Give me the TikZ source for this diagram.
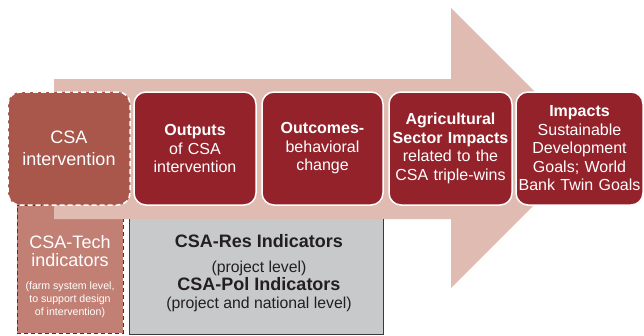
\documentclass[tikz,border=0pt]{standalone}
\usepackage{fontspec}
\setmainfont{Liberation Sans}
\definecolor{arrowpink}{HTML}{E0BBB1}
\definecolor{interfill}{HTML}{A9564B}
\definecolor{stagered}{HTML}{93222B}
\definecolor{techfill}{HTML}{C28075}
\definecolor{panelgray}{HTML}{C8C9CB}
\definecolor{inkdark}{HTML}{231F20}
\definecolor{edgegray}{HTML}{3A3A3A}
\begin{document}
\begin{tikzpicture}[x=1pt,y=-1pt,
  stagebox/.style={draw=white, line width=1.5pt, rounded corners=12pt, fill=stagered,
    text=white, inner sep=0pt, minimum height=113pt, align=center,
    font=\fontsize{16}{18.5}\selectfont},
  interbox/.style={stagebox, fill=interfill, dashed, dash pattern=on 5pt off 3pt,
    font=\fontsize{18}{22}\selectfont},
  techtext/.style={text=white, anchor=base, align=center, inner sep=0pt},
  paneltext/.style={text=inkdark, anchor=base, inner sep=0pt}]
\useasboundingbox (0,0) rectangle (644,335);

% tech indicator column (partly under the big arrow)
\node[draw=edgegray, dashed, dash pattern=on 4pt off 3pt, line width=0.9pt, fill=techfill,
  inner sep=0pt, minimum width=106pt, minimum height=128pt] (tech) at (70,269) {};

% broad background arrow
\fill[arrowpink] (54,79) -- (451,79) -- (451,8) -- (591,148) -- (451,288)
  -- (451,219) -- (54,219) -- cycle;

% grey indicator panel
\fill[panelgray] (129,219) rectangle (383,334);
\draw[edgegray, line width=0.8pt] (129,219) -- (129,334) -- (383,334) -- (383,219);
\coordinate (panel) at (256,276);

% stage boxes
\node[interbox, minimum width=122pt, text width=116pt] (inter) at (69,148.5)
  {CSA\\intervention};
\node[stagebox, minimum width=122pt, text width=116pt] (outputs) at (195,148.5)
  {\textbf{Outputs}\\of CSA\\intervention};
\node[stagebox, minimum width=121pt, text width=115pt] (outcomes) at (322.5,148.5)
  {\textbf{Outcomes-}\\behavioral\\change};
\node[stagebox, minimum width=123pt, text width=120pt] (agri) at (450.5,148.5)
  {\textbf{Agricultural}\\\textbf{Sector Impacts}\\related to the\\CSA triple-wins};
\node[stagebox, minimum width=127pt, text width=124pt] (impacts) at (579.5,148.5)
  {\textbf{Impacts}\\Sustainable\\Development\\Goals; World\\Bank Twin Goals};

% tech indicator labels
\node[techtext, font=\fontsize{18}{18.5}\selectfont] (techA) at (70,248) {CSA-Tech};
\node[techtext, font=\fontsize{18}{18.5}\selectfont] (techB) at (70,266) {indicators};
\node[techtext, font=\fontsize{10.6}{13}\selectfont] (techC) at (70,289) {(farm system level,};
\node[techtext, font=\fontsize{10.6}{13}\selectfont] (techD) at (70,302) {to support design};
\node[techtext, font=\fontsize{10.6}{13}\selectfont] (techE) at (70,315) {of intervention)};

% panel labels
\node[paneltext, font=\fontsize{18}{20}\bfseries\selectfont] (resA) at (259,247) {CSA-Res Indicators};
\node[paneltext, font=\fontsize{15.8}{18}\selectfont] (resB) at (259,272) {(project level)};
\node[paneltext, font=\fontsize{18}{20}\bfseries\selectfont] (polA) at (259,290) {CSA-Pol Indicators};
\node[paneltext, font=\fontsize{15.8}{18}\selectfont] (polB) at (259,308) {(project and national level)};
\end{tikzpicture}
\end{document}
